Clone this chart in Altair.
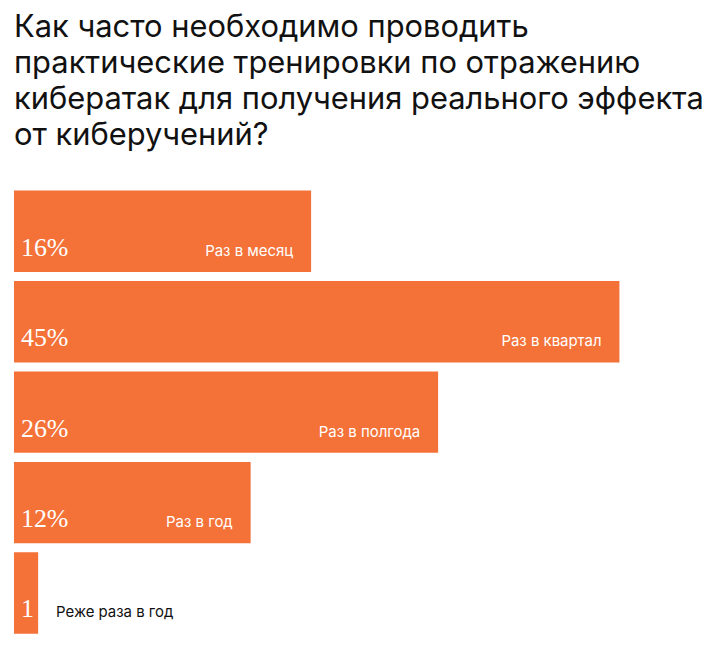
import altair as alt
import pandas as pd

title_lines = [
    "Как часто необходимо проводить",
    "практические тренировки по отражению",
    "кибератак для получения реального эффекта",
    "от киберучений?",
]
categories = ["Раз в месяц", "Раз в квартал", "Раз в полгода", "Раз в год", "Реже раза в год"]
values = [16, 45, 26, 12, 1]
pct_labels = ["16%", "45%", "26%", "12%", "1"]

df = pd.DataFrame({"cat": categories, "value": values, "pct": pct_labels})

ORANGE = "#F47137"
ysc = alt.Scale(paddingInner=0.1, paddingOuter=0)
xsc = alt.Scale(type="symlog", constant=22, domain=[0, 45], nice=False)

base = alt.Chart(df)

bars = base.mark_bar(color=ORANGE).encode(
    x=alt.X("value:Q", scale=xsc, axis=None),
    y=alt.Y("cat:N", sort=categories, scale=ysc, axis=None),
)

pct = base.mark_text(
    align="left", baseline="alphabetic", dx=7, font="Liberation Serif", fontSize=26, color="white"
).encode(
    x=alt.value(0),
    y=alt.Y("cat:N", sort=categories, scale=ysc, axis=None, bandPosition=0.8),
    text="pct:N",
)

cat_in = base.transform_filter("datum.value >= 5").mark_text(
    align="right", baseline="alphabetic", dx=-18, font="Inter", fontSize=15, color="white"
).encode(
    x=alt.X("value:Q", scale=xsc, axis=None),
    y=alt.Y("cat:N", sort=categories, scale=ysc, axis=None, bandPosition=0.8),
    text="cat:N",
)

cat_out = base.transform_filter("datum.value < 5").mark_text(
    align="left", baseline="alphabetic", dx=18, font="Inter", fontSize=15, color="#111111"
).encode(
    x=alt.X("value:Q", scale=xsc, axis=None),
    y=alt.Y("cat:N", sort=categories, scale=ysc, axis=None, bandPosition=0.8),
    text="cat:N",
)

chart = alt.layer(bars, pct, cat_in, cat_out).properties(
    width=608,
    height=445,
    autosize=alt.AutoSizeParams(type="none"),
    padding={"left": 6, "top": 182, "right": 100, "bottom": 10},
    title=alt.TitleParams(
        text=title_lines,
        anchor="start",
        font="Inter",
        fontSize=31,
        fontWeight="normal",
        lineHeight=36,
        color="#111111",
        offset=39,
    ),
).configure_view(stroke=None)

chart.save("out.html", embed_options={"renderer": "svg", "actions": False})
